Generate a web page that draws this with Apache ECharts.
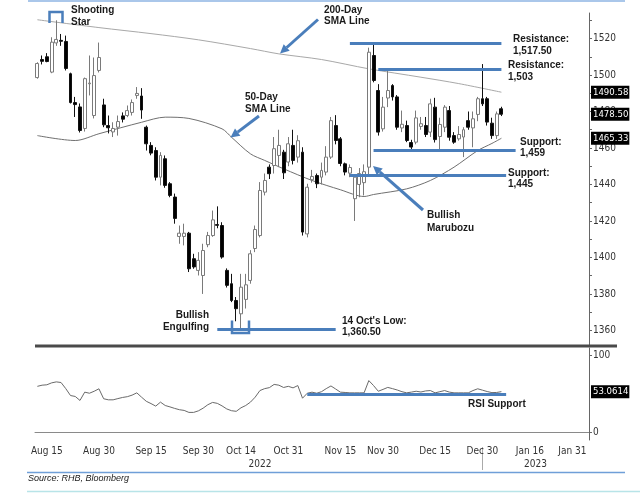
<!DOCTYPE html>
<html>
<head>
<meta charset="utf-8">
<script src="https://cdn.jsdelivr.net/npm/echarts@6/dist/echarts.min.js"></script>
<style>
  html, body { margin: 0; padding: 0; background: #fff; }
  #chart { width: 640px; height: 493px; }
</style>
</head>
<body>
<div id="chart"></div>
<script>
// trading days (category axis), incl. empty days after the last candle
const dates = [
  'Aug 11','Aug 12','Aug 15','Aug 16','Aug 17','Aug 18','Aug 19','Aug 22','Aug 23','Aug 24','Aug 25','Aug 26','Aug 29','Aug 30',
  'Sep 1','Sep 2','Sep 5','Sep 6','Sep 7','Sep 8','Sep 9','Sep 12','Sep 13','Sep 14','Sep 15','Sep 19','Sep 20','Sep 21','Sep 22','Sep 23','Sep 26','Sep 27','Sep 28','Sep 29','Sep 30',
  'Oct 3','Oct 4','Oct 5','Oct 6','Oct 7','Oct 11','Oct 12','Oct 13','Oct 14','Oct 17','Oct 18','Oct 19','Oct 20','Oct 21','Oct 25','Oct 26','Oct 27','Oct 28','Oct 31',
  'Nov 1','Nov 2','Nov 3','Nov 4','Nov 7','Nov 8','Nov 9','Nov 10','Nov 11','Nov 14','Nov 15','Nov 16','Nov 17','Nov 21','Nov 22','Nov 23','Nov 24','Nov 25','Nov 29','Nov 30',
  'Dec 1','Dec 2','Dec 5','Dec 6','Dec 7','Dec 8','Dec 9','Dec 12','Dec 13','Dec 14','Dec 15','Dec 16','Dec 19','Dec 20','Dec 21','Dec 22','Dec 23','Dec 27','Dec 28','Dec 29','Dec 30',
  'Jan 3','Jan 4','Jan 5','Jan 6','Jan 9','Jan 10','Jan 11','Jan 12','Jan 13','Jan 16','Jan 17','Jan 18','Jan 19','Jan 20','Jan 25','Jan 26','Jan 27','Jan 30','Jan 31',
  'Feb 2','Feb 3','Feb 6'
];
const labelDates = ['Aug 15','Aug 30','Sep 15','Sep 30','Oct 14','Oct 31','Nov 15','Nov 30','Dec 15','Dec 30','Jan 16','Jan 31'];
const tickIdx = [8, 19, 29, 39, 49, 59, 69, 79, 90, 100, 109];

const open = [1498.6,1508.5,1510,1501.6,1517.6,1519,1518.4,1500.7,1484.9,1482.5,
  1470.7,1495.2,1477.8,1502.5,1483.6,1472.3,1468.8,1471.4,1477.6,1477.8,
  1479.5,1488.8,1488.5,1471.4,1461.4,1458.6,1444,1454.1,1440.4,1433.1,
  1411.5,1411.5,1413.3,1399.3,1392.9,1390.1,1407,1412,1418,1417.5,
  1392.9,1385.6,1376.4,1369.1,1377,1387.4,1404.9,1412,1435.8,1449.5,
  1450.4,1455.9,1457.7,1452.3,1461.4,1455,1457.7,1412.9,1442.6,1444.9,
  1444,1446.8,1455,1472.3,1465,1451.3,1446.2,1432.2,1440,1441,
  1449.5,1510.7,1491.5,1470.5,1487.4,1494.2,1488,1471,1472.3,1463,
  1463.2,1471.8,1472.3,1468.7,1482.4,1466.3,1471.4,1480.5,1466.8,1465,
  1466,1475,1471,1478.4,1487,1487,1473.6,1466.8,1481.5];
const close = [1506.3,1507.5,1507.4,1518,1519.5,1518.5,1503.6,1484.9,1483.8,1469.6,
  1498,1495.6,1499.7,1509.6,1472.7,1471.1,1470.7,1474.5,1475.8,1480.5,
  1484.9,1489.9,1480.8,1462.3,1457.2,1444,1455.9,1439.5,1434,1421.4,
  1413.3,1413.3,1393.8,1394.8,1398.4,1403.8,1412,1420.6,1417.6,1400.2,
  1384.7,1376.4,1371.9,1383.7,1385,1402,1415.3,1436.7,1442.2,1445.9,
  1459.6,1461.4,1446.4,1462.3,1453.2,1464,1413.9,1438.5,1444.4,1440.4,
  1447.7,1455,1475,1464.1,1451.5,1446.8,1449.3,1444,1446,1447,
  1512.5,1497,1468.7,1482.4,1491.5,1488,1471.4,1473,1464.1,1460.5,
  1476.5,1473.3,1467.4,1484.2,1464.6,1472.9,1482.4,1465.9,1463.2,1467.4,
  1470,1471.4,1476,1487,1484.2,1474.2,1466.8,1478.7,1478.5];
const low = [1498,1505.8,1507,1501,1516,1516,1502.5,1484.4,1477,1468.5,
  1469,1488.8,1476.2,1501.4,1471.4,1468,1466,1466.8,1474,1476.9,
  1477.8,1487,1476,1458.6,1456,1442.2,1439.5,1438.2,1433,1418.5,
  1407.5,1406.6,1392,1393.8,1390.1,1380,1405.6,1411.3,1416,1399.3,
  1383.5,1375.5,1365,1360.5,1372,1385.6,1402.9,1411,1434,1443,
  1446,1449.5,1443,1450,1451,1452,1412,1411,1441,1438,
  1440,1445,1454,1462,1450,1445,1444,1420,1433,1434,
  1445,1496,1466.8,1469,1482.4,1486,1470,1468.7,1463.2,1459,
  1462,1470,1466,1466,1463,1458,1468.7,1464,1462.3,1464,
  1455,1470,1460.4,1474.7,1483,1472.3,1465,1465,1477.5];
const high = [1507,1510.7,1512,1520.7,1530,1522.5,1521.6,1501.3,1488,1484.4,
  1498.6,1510.7,1509.6,1517.8,1487,1477.8,1474.1,1477.8,1479.5,1483.3,
  1486.6,1493.4,1492.8,1472.3,1463.2,1460.4,1457.7,1455.9,1441.3,1435,
  1417.5,1418.5,1414,1402,1402.9,1407.5,1414,1425.7,1428,1419.3,
  1394,1391,1378.3,1391,1391,1404,1417.5,1441.3,1446,1451,
  1466,1470,1459,1466,1470,1467,1460.4,1440.4,1448,1446,
  1452,1461,1477,1478,1466,1452,1451,1445,1449,1451,
  1515,1517.5,1495,1488,1503,1495,1489,1480.5,1475,1464.5,
  1480.5,1477,1477,1487,1487.5,1476.6,1483.5,1483,1468.7,1472,
  1471.4,1480,1480,1488,1506,1488,1476.6,1480,1482.6];

// moving averages read at a few points along the curves
const sma200Idx = [0, 13, 24, 34, 45, 51, 60, 70, 81, 89, 98];
const sma200Val = [1530.3, 1526, 1522.7, 1519.3, 1514.5, 1511.6, 1508.5, 1503.4, 1498.8, 1495.3, 1490.58];
const sma50Idx = [0, 8, 13, 22, 27, 32, 39, 41, 45, 48, 52, 58, 64, 69, 71, 78, 83, 88, 93, 96, 98];
const sma50Val = [1466.8, 1464.1, 1467.8, 1474.1, 1476.9, 1476.2, 1470.5, 1465.9, 1456.8, 1453.2, 1448.6,
  1442.2, 1437.1, 1433.4, 1434.5, 1437.6, 1442.2, 1449.5, 1458.6, 1462.5, 1465.33];

const rsi = [60,61.5,62,64.5,65.8,65,57,48,46.8,41.6,
  52.4,51,53.6,56.8,43.8,42.4,42.4,44,45.5,46.5,
  48.5,51.5,45.9,40.5,37.5,34.2,39.4,35,33.2,31.2,
  29.5,28.6,26,26,28,31.5,36,39,37.8,34.5,
  30.5,28.2,27.4,32,35,39.4,45.9,54.5,57,58.3,
  62.5,61.5,58.5,60,58,61,44.5,51,52.4,51,
  53,57,60.5,56.5,52.4,52,51.5,51.5,51.5,51.5,
  67.5,61,53.6,56,58.6,57,55.2,53,51.5,52.5,
  53.6,52.6,54,54.5,51.5,53,54.5,52.5,51.5,51.5,
  51.5,51.5,54.5,56.8,55,53.2,51.8,52,53.06];

// support / resistance levels and where they run
const levelVal = [1517.5, 1503, 1459, 1445, 1360.5];
const levelFrom = [66, 72, 71, 66, 38];
const levelTo = [98, 98, 101, 99, 63];
const rsiSupport = 50, rsiSupportFrom = 57, rsiSupportTo = 99;

const yLabels = [1360, 1380, 1400, 1420, 1440, 1460, 1480, 1500, 1520];
const yTicks = [1360,1370,1380,1390,1400,1410,1420,1430,1440,1450,1460,1470,1480,1490,1500,1510,1520,1530];

const BLUE = '#4a7ebb';
const NARROW = '"Liberation Sans Narrow", "DejaVu Sans Condensed", "Liberation Sans", sans-serif';
const BOLD = 'bold 10px "Liberation Sans", Arial, sans-serif';

function badge(value, text) {
  return {
    yAxis: value,
    lineStyle: { color: 'rgba(0,0,0,0)', width: 0 },
    label: {
      show: true, position: 'end', formatter: text, distance: 2,
      color: '#fff', backgroundColor: '#000', padding: [2, 1, 1, 2],
      fontFamily: NARROW, fontSize: 9.5
    }
  };
}

function txt(x, y, text, align) {
  return {
    type: 'text', x: x, y: y, z: 100,
    style: { text: text, font: BOLD, fill: '#1a1a1a', align: align || 'left', verticalAlign: 'middle' }
  };
}

function arrow(x1, y1, x2, y2) {
  const dx = x2 - x1, dy = y2 - y1, len = Math.sqrt(dx * dx + dy * dy);
  const ux = dx / len, uy = dy / len, hl = 9, hw = 4.5;
  const bx = x2 - ux * hl, by = y2 - uy * hl;
  return [
    { type: 'line', z: 100, shape: { x1: x1, y1: y1, x2: bx, y2: by }, style: { stroke: BLUE, lineWidth: 3 } },
    { type: 'polygon', z: 100, shape: { points: [[x2, y2], [bx - uy * hw, by + ux * hw], [bx + uy * hw, by - ux * hw]] }, style: { fill: BLUE } }
  ];
}

const chart = echarts.init(document.getElementById('chart'));

const levelLines = levelVal.map((v, i) => [{ coord: [levelFrom[i], v] }, { coord: [levelTo[i], v] }]);

chart.setOption({
  animation: false,
  backgroundColor: '#fff',
  grid: [
    { left: 35, right: 51, top: 13, bottom: 148 },
    { left: 35, right: 51, top: 348, bottom: 53 }
  ],
  xAxis: [
    {
      type: 'category', gridIndex: 0, data: dates, boundaryGap: true,
      axisLine: { show: false }, axisTick: { show: false }, axisLabel: { show: false }
    },
    {
      type: 'category', gridIndex: 1, data: dates, boundaryGap: true,
      axisLine: { lineStyle: { color: '#8a8a8a' } },
      axisTick: { interval: (i) => tickIdx.includes(i), length: 3, inside: true, lineStyle: { color: '#8a8a8a' } },
      axisLabel: {
        interval: (i, v) => labelDates.includes(v),
        fontFamily: NARROW, fontSize: 10, color: '#333', margin: 6
      }
    }
  ],
  yAxis: [
    {
      type: 'value', gridIndex: 0, position: 'right', min: 1352, max: 1534,
      splitLine: { show: false },
      axisLine: { show: true, lineStyle: { color: '#666' } },
      axisTick: { show: true, customValues: yTicks, length: 3, lineStyle: { color: '#666' } },
      axisLabel: { customValues: yLabels, formatter: (v) => String(v), fontFamily: NARROW, fontSize: 10, color: '#333', margin: 4 }
    },
    {
      type: 'value', gridIndex: 1, position: 'right', min: -10, max: 110,
      splitLine: { show: false },
      axisLine: { show: true, lineStyle: { color: '#666' } },
      axisTick: { show: true, customValues: [0, 100], length: 3, lineStyle: { color: '#666' } },
      axisLabel: { customValues: [0, 100], formatter: (v) => String(v), fontFamily: NARROW, fontSize: 10, color: '#333', margin: 4 }
    }
  ],
  series: [
    {
      name: '200-Day SMA', type: 'line', xAxisIndex: 0, yAxisIndex: 0,
      data: sma200Idx.map((x, i) => [x, sma200Val[i]]),
      showSymbol: false, z: 2, smooth: 0.3,
      lineStyle: { color: '#a8a8a8', width: 1 },
      markLine: { symbol: 'none', silent: true, data: [badge(1490.58, '1490.58')] }
    },
    {
      name: '50-Day SMA', type: 'line', xAxisIndex: 0, yAxisIndex: 0,
      data: sma50Idx.map((x, i) => [x, sma50Val[i]]),
      showSymbol: false, z: 2, smooth: 0.3,
      lineStyle: { color: '#707070', width: 1 },
      markLine: { symbol: 'none', silent: true, data: [badge(1465.33, '1465.33')] }
    },
    {
      name: 'KLCI', type: 'candlestick', xAxisIndex: 0, yAxisIndex: 0,
      data: open.map((o, i) => [o, close[i], low[i], high[i]]),
      barWidth: 3.4, z: 3,
      itemStyle: { color: '#fff', color0: '#000', borderColor: '#7a7a7a', borderColor0: '#111', borderWidth: 1 },
      markLine: {
        symbol: 'none', silent: true, z: 5,
        lineStyle: { color: BLUE, width: 3, type: 'solid' },
        label: { show: false },
        data: levelLines.concat([badge(1478.5, '1478.50')])
      }
    },
    {
      name: 'RSI', type: 'line', xAxisIndex: 1, yAxisIndex: 1,
      data: rsi, showSymbol: false,
      lineStyle: { color: '#6a6a6a', width: 1 },
      markLine: {
        symbol: 'none', silent: true,
        lineStyle: { color: BLUE, width: 3, type: 'solid' },
        label: { show: false },
        data: [
          [{ coord: [rsiSupportFrom, rsiSupport] }, { coord: [rsiSupportTo, rsiSupport] }],
          badge(53.0614, '53.0614')
        ]
      }
    }
  ],
  graphic: [
    { type: 'line', shape: { x1: 28, y1: 1, x2: 625, y2: 1 }, style: { stroke: '#8eb4e3', lineWidth: 1.5 } },
    { type: 'rect', shape: { x: 35, y: 344.5, width: 582, height: 3 }, style: { fill: '#4a4a4a' }, z: 50 },
    { type: 'line', shape: { x1: 482.5, y1: 447, x2: 482.5, y2: 470 }, style: { stroke: '#aaa', lineWidth: 1 } },
    { type: 'line', shape: { x1: 27, y1: 472.5, x2: 625, y2: 472.5 }, style: { stroke: '#6f9fd8', lineWidth: 1.5 } },
    { type: 'line', shape: { x1: 27, y1: 491.5, x2: 640, y2: 491.5 }, style: { stroke: '#b8e4e8', lineWidth: 1.5 } },
    { type: 'polyline', z: 100, shape: { points: [[49.5, 23], [49.5, 12], [62.5, 12], [62.5, 23]] }, style: { stroke: BLUE, lineWidth: 2.5, fill: null } },
    { type: 'polyline', z: 100, shape: { points: [[232, 320.5], [232, 333], [249, 333], [249, 320.5]] }, style: { stroke: BLUE, lineWidth: 2.5, fill: null } },
    ...arrow(318, 19.5, 280, 53.5),
    ...arrow(259, 116, 230.5, 137.5),
    ...arrow(423, 210, 373, 166),
    txt(71, 10, 'Shooting'), txt(71, 22, 'Star'),
    txt(324, 10, '200-Day'), txt(324, 21.7, 'SMA Line'),
    txt(245, 97.7, '50-Day'), txt(245, 109.3, 'SMA Line'),
    txt(513, 39, 'Resistance:'), txt(513, 51, '1,517.50'),
    txt(508, 65, 'Resistance:'), txt(508, 77, '1,503'),
    txt(520, 142, 'Support:'), txt(520, 153.5, '1,459'),
    txt(508, 173, 'Support:'), txt(508, 184, '1,445'),
    txt(427, 215.7, 'Bullish'), txt(427, 228.3, 'Marubozu'),
    txt(209, 315, 'Bullish', 'right'), txt(209, 327.3, 'Engulfing', 'right'),
    txt(342, 321.7, "14 Oct's Low:"), txt(342, 332.7, '1,360.50'),
    txt(468, 404.3, 'RSI Support'),
    { type: 'text', x: 260, y: 464, style: { text: '2022', font: '10px ' + NARROW, fill: '#333', align: 'center', verticalAlign: 'middle' } },
    { type: 'text', x: 535.5, y: 464, style: { text: '2023', font: '10px ' + NARROW, fill: '#333', align: 'center', verticalAlign: 'middle' } },
    { type: 'text', x: 28, y: 478, style: { text: 'Source: RHB, Bloomberg', font: 'italic 9px "Liberation Sans", Arial, sans-serif', fill: '#222', align: 'left', verticalAlign: 'middle' } }
  ]
});
</script>
</body>
</html>
